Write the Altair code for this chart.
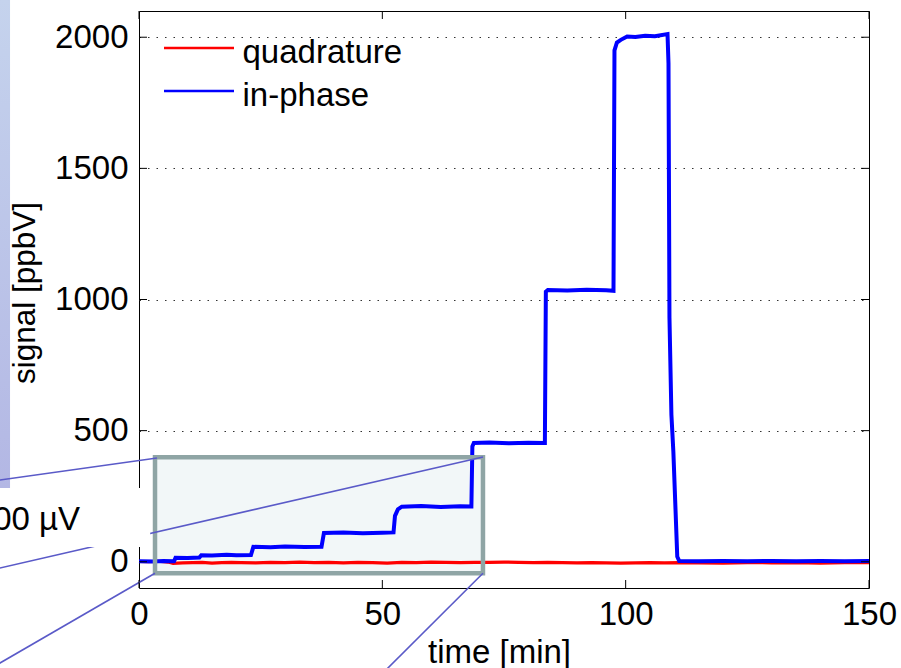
import altair as alt
import pandas as pd

# ---------------- data ----------------
series_names = ["quadrature", "in-phase"]
series_colors = ["#ff0000", "#0000ff"]

# in-phase signal (blue), time in min, signal in ppbV
blue_t = [0, 3, 5, 7.2, 7.5, 10, 12.4, 12.8, 15, 18, 20, 23.0, 23.5, 27, 30, 34, 37.5,
          38.0, 42, 46, 50, 52.3, 52.6, 53.2, 54, 58, 62, 66, 68.3, 68.5, 68.8, 72, 76,
          80, 83.4, 83.6, 84, 88, 92, 96, 97.5, 97.7, 98.2, 99, 100.3, 102, 104, 106,
          108.6, 108.8, 109.0, 109.4, 109.8, 110.6, 111.0, 115, 120, 125, 130, 135,
          140, 145, 150]
blue_v = [2, 1, 3, 2, 15, 14, 16, 25, 24, 27, 25, 26, 57, 55, 58, 56, 57,
          110, 112, 109, 111, 112, 175, 200, 210, 213, 209, 212, 211, 440, 453, 455, 452,
          454, 453, 1030, 1036, 1034, 1037, 1035, 1033, 1950, 1980, 1990, 2003, 2001, 2006, 2004,
          2012, 1900, 930, 560, 420, 20, 3, 2, 3, 2, 3, 2,
          3, 2, 3]

# quadrature signal (red)
red_t = [0, 2, 4, 6, 7, 9, 11, 13, 15, 17, 19, 21, 24, 27, 30, 33, 36, 39, 42, 45, 48,
         51, 54, 57, 60, 63, 66, 69, 72, 75, 78, 81, 84, 87, 90, 93, 96, 99, 102, 105,
         108, 111, 115, 120, 125, 130, 135, 140, 145, 150]
red_v = [1, 0, 2, -1, -6, -4, -3, -2, -5, -3, -2, -3, -4, -2, -3, -1, -3, -2, -4, -2, -3,
         -5, -2, -3, -1, -2, -3, -2, -2, -1, -2, -3, -2, -3, -4, -3, -4, -5, -4, -3,
         -4, -3, -4, -5, -3, -4, -3, -5, -3, -3]

x_ticks = [0, 50, 100, 150]
y_ticks = [0, 500, 1000, 1500, 2000]
x_domain = [0, 150]
y_domain = [-100, 2100]

# slide annotations (in data units)
zoom_box = {"t0": 3.29, "t1": 70.68, "v0": -43.8, "v1": 398.4}
side_panel = {"t0": -31.0, "t1": -26.5, "v0": 281.4, "v1": 2142}
mask_box = {"t0": -31.0, "t1": 2.3, "v0": 56.4, "v1": 281.4}
callout_lines = [
    {"t0": -28.6, "v0": 311.9, "t1": 3.7, "v1": 395.8},
    {"t0": -30.6, "v0": -32.4, "t1": 70.68, "v1": 399.6},
    {"t0": -30.6, "v0": -408.0, "t1": 3.29, "v1": -43.8},
    {"t0": 70.68, "v0": -43.8, "t1": 49.1, "v1": -443.0},
]
note_text = {"t": -12.1, "v": 121.2, "label": "00 µV"}

# ---------------- build ----------------
W, H = 730, 577
FONT = "Liberation Sans"
FS = 33

df_blue = pd.DataFrame({"t": blue_t, "v": blue_v, "series": series_names[1]})
df_red = pd.DataFrame({"t": red_t, "v": red_v, "series": series_names[0]})

xs = alt.Scale(domain=x_domain, nice=False, zero=False)
ys = alt.Scale(domain=y_domain, nice=False, zero=False)

x_axis = alt.Axis(values=x_ticks, format="d", title="time [min]", grid=False, ticks=False,
                  tickSize=0, domain=False, labelFontSize=FS, labelColor="black",
                  labelPadding=36, labelBaseline="alphabetic", labelFlush=False,
                  labelOverlap=False, titleFontSize=FS, titleFontWeight="normal",
                  titleColor="black", titleX=360, titleY=74, titleBaseline="alphabetic",
                  titleAlign="center", titleAngle=0)
y_axis = alt.Axis(values=y_ticks, format="d", title="signal [ppbV]", grid=True,
                  gridDash=[1.5, 7], gridColor="#333333", gridWidth=1.2, ticks=False,
                  tickSize=0, domain=False, labelFontSize=FS, labelColor="black",
                  labelPadding=11, labelBaseline="middle", labelOverlap=False,
                  titleFontSize=31.5, titleFontWeight="normal", titleColor="black",
                  titleX=-105, titleY=281.5, titleAngle=270, titleBaseline="alphabetic",
                  titleAlign="center")


def X(field):
    return alt.X(field, type="quantitative", scale=xs, axis=x_axis)


def Y(field):
    return alt.Y(field, type="quantitative", scale=ys, axis=y_axis)


legend = alt.Legend(title=None, orient="none", legendX=43.5, legendY=25.4,
                    symbolType="M-2.5,-0.35L2.5,-0.35", symbolSize=784, symbolStrokeWidth=2.5,
                    labelFontSize=FS, labelColor="black", labelOffset=27, rowPadding=9,
                    padding=0, labelBaseline="middle", labelLimit=400)
color = alt.Color("series:N", scale=alt.Scale(domain=series_names, range=series_colors),
                  legend=legend)


def rect_layer(d, **mark):
    return alt.Chart(pd.DataFrame([d])).mark_rect(**mark).encode(
        x=X("t0"), x2="t1", y=Y("v0"), y2="v1")


panel = rect_layer(side_panel, fill=alt.LinearGradient(
    gradient="linear",
    stops=[alt.GradientStop(color="#c5d3ed", offset=0),
           alt.GradientStop(color="#b3b7e4", offset=1)],
    x1=0, x2=0, y1=0, y2=1))
zoom_fill = rect_layer(zoom_box, fill="#f2f7f8")
zoom_border = rect_layer(zoom_box, filled=False, stroke="#8fa5a5", strokeWidth=4.5)

red_line = alt.Chart(df_red).mark_line(strokeWidth=3.2).encode(
    x=X("t"), y=Y("v"), color=color)
blue_line = alt.Chart(df_blue).mark_line(strokeWidth=4).encode(
    x=X("t"), y=Y("v"), color=color)

callouts = alt.Chart(pd.DataFrame(callout_lines)).mark_rule(
    color="#5a5ac8", strokeWidth=1.6).encode(
    x=X("t0"), x2="t1", y=Y("v0"), y2="v1")

mask = rect_layer(mask_box, fill="white")
note = alt.Chart(pd.DataFrame([note_text])).mark_text(
    align="right", baseline="alphabetic", fontSize=FS, font=FONT, color="black").encode(
    x=X("t"), y=Y("v"), text="label:N")

tx = pd.DataFrame({"t": x_ticks})
ty = pd.DataFrame({"v": y_ticks})
tick_bottom = alt.Chart(tx).mark_rule(color="black", strokeWidth=1).encode(
    x=X("t"), y=alt.value(H), y2=alt.value(H - 8))
tick_top = alt.Chart(tx).mark_rule(color="black", strokeWidth=1).encode(
    x=X("t"), y=alt.value(0), y2=alt.value(8))
tick_left = alt.Chart(ty).mark_rule(color="black", strokeWidth=1).encode(
    y=Y("v"), x=alt.value(0), x2=alt.value(8))
tick_right = alt.Chart(ty).mark_rule(color="black", strokeWidth=1).encode(
    y=Y("v"), x=alt.value(W), x2=alt.value(W - 8))

chart = alt.layer(
    panel, zoom_fill, red_line, blue_line, zoom_border, callouts, mask, note,
    tick_bottom, tick_top, tick_left, tick_right
).properties(
    width=W, height=H,
    autosize=alt.AutoSizeParams(type="none"),
    padding={"left": 139, "top": 11, "right": 32, "bottom": 80},
    background="white",
).configure(font=FONT).configure_view(stroke="black", strokeWidth=1)

chart.save("out.html", embed_options={"renderer": "svg", "actions": False})
